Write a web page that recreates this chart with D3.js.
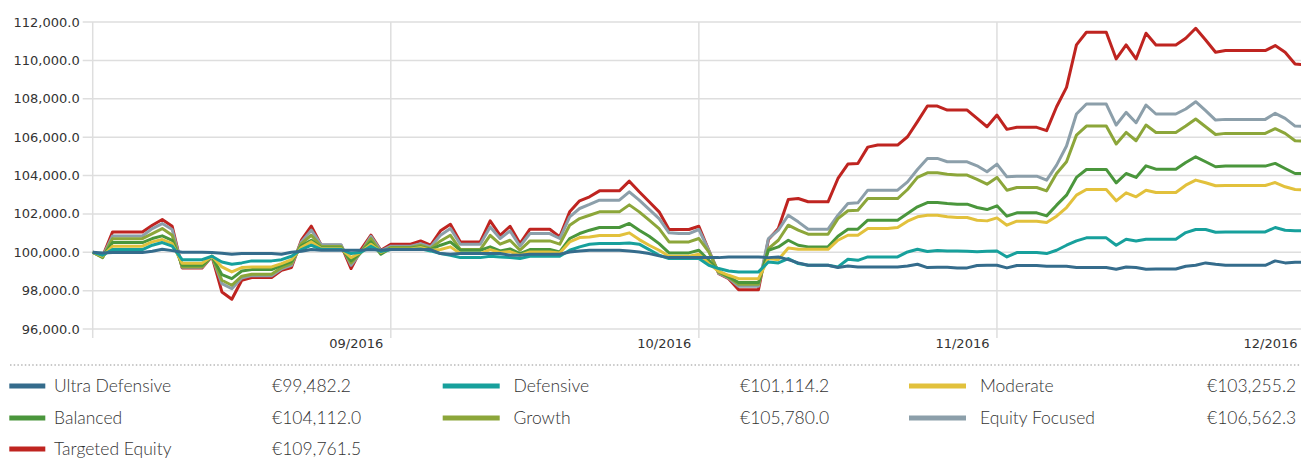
<!DOCTYPE html>
<html>
<head>
<meta charset="utf-8">
<script src="https://cdn.jsdelivr.net/npm/d3@7"></script>
<style>
  html, body { margin: 0; padding: 0; background: #fff; overflow: hidden; }
  .tick-label { font-family: "DejaVu Sans", Verdana, sans-serif; font-size: 13px; fill: #333; }
  .legend-text { font-family: Lato, "Open Sans", sans-serif; font-size: 17.5px; font-weight: 300; fill: #333; }
</style>
</head>
<body>
<div id="chart"></div>
<script>
// DATA
var seriesNames = ["Ultra Defensive", "Defensive", "Moderate", "Balanced", "Growth", "Equity Focused", "Targeted Equity"];
var seriesColors = ["#356c8c", "#17a09c", "#e2c13c", "#4a963c", "#8ca63a", "#8c9faa", "#bf2420"];
var finalLabels = ["€99,482.2", "€101,114.2", "€103,255.2", "€104,112.0", "€105,780.0", "€106,562.3", "€109,761.5"];

var tickLabels = ["09/2016", "10/2016", "11/2016", "12/2016"];
var tickIndex = [30, 61, 91, 122];
var yTicks = [96000, 98000, 100000, 102000, 104000, 106000, 108000, 110000, 112000];

var ultraDefensive = [
  100000, 99965, 99985, 99985, 99985, 99985, 100050, 100155, 100085, 100000,
  100000, 100000, 99985, 99950, 99900, 99930, 99930, 99930, 99930, 99900,
  100000, 100050, 100140, 100105, 100105, 100105, 100105, 100105, 100140, 100105,
  100140, 100140, 100140, 100140, 100140, 99930, 99895, 99930, 99930, 99930,
  99930, 99930, 99845, 99845, 99895, 99895, 99895, 99895, 100015, 100070,
  100105, 100105, 100105, 100105, 100070, 100015, 99930, 99810, 99720, 99720,
  99720, 99720, 99720, 99720, 99755, 99755, 99755, 99755, 99720, 99755,
  99615, 99445, 99320, 99320, 99320, 99200, 99285, 99235, 99235, 99235,
  99235, 99235, 99285, 99375, 99200, 99220, 99220, 99185, 99185, 99305,
  99320, 99320, 99185, 99305, 99305, 99305, 99270, 99270, 99270, 99200,
  99200, 99200, 99200, 99115, 99235, 99200, 99115, 99130, 99130, 99130,
  99270, 99320, 99445, 99375, 99320, 99320, 99320, 99320, 99320, 99550,
  99445, 99480, 99482.2
];
var defensive = [
  100000, 99845, 100140, 100140, 100140, 100140, 100365, 100505, 100315, 99615,
  99615, 99615, 99790, 99495, 99375, 99445, 99550, 99550, 99550, 99615,
  99790, 100140, 100365, 100155, 100155, 100155, 99930, 100000, 100315, 100035,
  100140, 100140, 100140, 100175, 100070, 99930, 99845, 99720, 99720, 99720,
  99790, 99755, 99720, 99670, 99790, 99790, 99790, 99790, 100105, 100280,
  100420, 100450, 100450, 100450, 100485, 100420, 100140, 99845, 99670, 99670,
  99670, 99670, 99320, 99150, 99025, 98975, 98975, 98975, 99495, 99445,
  99670, 99410, 99320, 99320, 99320, 99235, 99635, 99580, 99755, 99755,
  99755, 99755, 100015, 100155, 100040, 100090, 100060, 100060, 100050, 100020,
  100050, 100070, 99755, 99985, 99985, 99985, 99930, 100105, 100365, 100590,
  100750, 100750, 100750, 100365, 100680, 100590, 100680, 100680, 100680, 100680,
  101025, 101185, 101185, 101045, 101060, 101060, 101060, 101060, 101060, 101290,
  101150, 101115, 101114.2
];
var moderate = [
  100000, 99790, 100315, 100315, 100315, 100315, 100540, 100660, 100450, 99425,
  99425, 99425, 99790, 99235, 98975, 99200, 99235, 99235, 99235, 99410,
  99615, 100245, 100540, 100190, 100190, 100190, 99720, 100000, 100420, 100000,
  100175, 100175, 100175, 100245, 100105, 100140, 100280, 99930, 99930, 99930,
  100140, 99985, 100035, 99845, 100015, 100015, 100015, 99965, 100540, 100765,
  100800, 100870, 100870, 100870, 101010, 100660, 100365, 100105, 99790, 99790,
  99790, 99895, 99410, 99000, 98800, 98625, 98625, 98625, 99670, 99615,
  100225, 100155, 100155, 100155, 100155, 100625, 100885, 100885, 101235, 101235,
  101235, 101290, 101620, 101845, 101930, 101930, 101845, 101810, 101810, 101670,
  101635, 101790, 101410, 101620, 101620, 101620, 101550, 101880, 102330, 102975,
  103270, 103270, 103270, 102680, 103095, 102890, 103235, 103115, 103115, 103115,
  103495, 103760, 103620, 103465, 103480, 103480, 103480, 103480, 103480, 103635,
  103410, 103270, 103255.2
];
var balanced = [
  100000, 99750, 100505, 100505, 100505, 100505, 100715, 100855, 100625, 99320,
  99320, 99320, 99790, 98835, 98625, 99025, 99095, 99095, 99095, 99320,
  99515, 100330, 100625, 100225, 100225, 100225, 99550, 100000, 100540, 99895,
  100210, 100210, 100210, 100280, 100140, 100365, 100540, 100105, 100105, 100105,
  100280, 100070, 100175, 99930, 100140, 100140, 100140, 100015, 100715, 100975,
  101150, 101290, 101290, 101290, 101500, 101150, 100835, 100450, 99965, 99965,
  99965, 100105, 99580, 99000, 98720, 98420, 98420, 98420, 100105, 100280,
  100625, 100365, 100280, 100280, 100280, 100835, 101200, 101200, 101670, 101670,
  101670, 101670, 102020, 102365, 102590, 102590, 102540, 102505, 102505, 102330,
  102225, 102420, 101880, 102055, 102055, 102055, 101895, 102455, 102975, 103900,
  104315, 104315, 104315, 103620, 104105, 103900, 104505, 104330, 104330, 104330,
  104680, 104975, 104715, 104455, 104490, 104490, 104490, 104490, 104490, 104630,
  104365, 104105, 104112
];
var growth = [
  100000, 99720, 100710, 100710, 100710, 100710, 100975, 101235, 100885, 99250,
  99250, 99250, 99790, 98540, 98280, 98750, 98850, 98850, 98850, 99200,
  99410, 100450, 100885, 100295, 100295, 100295, 99445, 100000, 100715, 99965,
  100245, 100245, 100245, 100350, 100190, 100590, 100885, 100140, 100140, 100140,
  100885, 100420, 100625, 100105, 100590, 100590, 100590, 100420, 101410, 101755,
  101930, 102105, 102105, 102105, 102470, 102105, 101670, 101235, 100540, 100540,
  100540, 100715, 100020, 98950, 98700, 98330, 98330, 98330, 100190, 100625,
  101410, 101150, 100940, 100940, 100940, 101755, 102160, 102190, 102800, 102800,
  102800, 102800, 103270, 103900, 104140, 104140, 104070, 104020, 104020, 103795,
  103550, 103900, 103235, 103375, 103375, 103375, 103200, 104105, 104720, 106105,
  106575, 106575, 106575, 105640, 106245, 105810, 106630, 106245, 106245, 106245,
  106575, 106945, 106540, 106140, 106195, 106195, 106195, 106195, 106195, 106440,
  106195, 105810, 105780
];
var equityFocused = [
  100000, 99780, 100850, 100850, 100850, 100850, 101235, 101495, 101185, 99215,
  99215, 99215, 99790, 98365, 98105, 98660, 98780, 98780, 98780, 99130,
  99320, 100540, 101150, 100385, 100385, 100385, 99320, 100000, 100835, 100070,
  100315, 100315, 100315, 100450, 100280, 100885, 101235, 100420, 100420, 100420,
  101320, 100715, 101115, 100315, 100975, 100975, 100975, 100715, 101845, 102280,
  102490, 102715, 102715, 102715, 103150, 102715, 102230, 101755, 101010, 100975,
  100975, 101185, 100105, 98900, 98650, 98230, 98230, 98230, 100715, 101150,
  101930, 101585, 101200, 101200, 101200, 101930, 102540, 102575, 103235, 103235,
  103235, 103235, 103670, 104315, 104890, 104890, 104715, 104715, 104715, 104505,
  104195, 104595, 103930, 103965, 103965, 103965, 103760, 104540, 105535, 107205,
  107725, 107725, 107725, 106630, 107290, 106750, 107675, 107205, 107205, 107205,
  107465, 107845, 107380, 106890, 106925, 106925, 106925, 106925, 106925, 107240,
  106975, 106575, 106562.3
];
var targetedEquity = [
  100000, 99790, 101060, 101060, 101060, 101060, 101410, 101705, 101355, 99180,
  99180, 99180, 99790, 97930, 97550, 98540, 98680, 98680, 98680, 99060,
  99200, 100630, 101360, 100365, 100365, 100365, 99150, 100140, 100890, 100100,
  100420, 100420, 100420, 100590, 100365, 101115, 101460, 100540, 100540, 100540,
  101635, 100885, 101355, 100450, 101200, 101200, 101200, 100800, 102105, 102680,
  102890, 103200, 103200, 103200, 103705, 103150, 102630, 102105, 101185, 101185,
  101185, 101355, 100100, 98885, 98625, 98050, 98050, 98050, 100660, 101235,
  102750, 102800, 102630, 102630, 102630, 103845, 104595, 104630, 105480, 105585,
  105585, 105585, 106020, 106805, 107620, 107620, 107410, 107410, 107410, 106975,
  106540, 107150, 106405, 106510, 106510, 106510, 106335, 107585, 108595, 110805,
  111465, 111465, 111465, 110075, 110805, 110075, 111415, 110805, 110805, 110805,
  111155, 111675, 111065, 110425, 110510, 110510, 110510, 110510, 110510, 110770,
  110425, 109815, 109761.5
];

var allSeries = [ultraDefensive, defensive, moderate, balanced, growth, equityFocused, targetedEquity];

// LAYOUT
var width = 1301, height = 459;
var plotLeft = 92.7, plotTop = 22, plotBottom = 329, axisBottom = 338;

var svg = d3.select("#chart").append("svg")
    .attr("width", width)
    .attr("height", height)
    .style("display", "block");

var xScale = d3.scaleLinear().domain([0, 122]).range([plotLeft, 1305]);
var yScale = d3.scaleLinear().domain([96000, 112000]).range([plotBottom, plotTop]);

// horizontal gridlines + y labels
var yAxis = svg.append("g").attr("class", "y axis");
yAxis.selectAll("line")
    .data(yTicks)
  .enter().append("line")
    .attr("x1", plotLeft - 10)
    .attr("x2", width)
    .attr("y1", function(d) { return yScale(d); })
    .attr("y2", function(d) { return yScale(d); })
    .attr("stroke", "#dedede")
    .attr("stroke-width", 1.5);

yAxis.selectAll("text")
    .data(yTicks)
  .enter().append("text")
    .attr("class", "tick-label")
    .attr("x", plotLeft - 13)
    .attr("y", function(d) { return yScale(d); })
    .attr("dy", "0.35em")
    .attr("text-anchor", "end")
    .text(function(d) { return d3.format(",.1f")(d); });

// vertical axis line + month gridlines
svg.append("line")
    .attr("x1", plotLeft).attr("x2", plotLeft)
    .attr("y1", plotTop).attr("y2", axisBottom)
    .attr("stroke", "#dedede")
    .attr("stroke-width", 1.5);

var xAxis = svg.append("g").attr("class", "x axis");
xAxis.selectAll("line")
    .data(tickIndex)
  .enter().append("line")
    .attr("x1", function(d) { return xScale(d); })
    .attr("x2", function(d) { return xScale(d); })
    .attr("y1", plotTop)
    .attr("y2", axisBottom)
    .attr("stroke", "#dedede")
    .attr("stroke-width", 1.5);

xAxis.selectAll("text")
    .data(tickIndex)
  .enter().append("text")
    .attr("class", "tick-label")
    .attr("x", function(d) { return xScale(d) - 7.5; })
    .attr("y", 343)
    .attr("dy", "0.35em")
    .attr("text-anchor", "end")
    .text(function(d, i) { return tickLabels[i]; });

// lines - riskiest first so Ultra Defensive sits on top
var line = d3.line()
    .x(function(d, i) { return xScale(i); })
    .y(function(d) { return yScale(d); });

var order = [6, 5, 4, 3, 2, 1, 0];
svg.append("g").selectAll("path")
    .data(order)
  .enter().append("path")
    .attr("d", function(k) { return line(allSeries[k]); })
    .attr("fill", "none")
    .attr("stroke", function(k) { return seriesColors[k]; })
    .attr("stroke-width", 3)
    .attr("stroke-linejoin", "round");

// LEGEND
svg.append("line")
    .attr("x1", 10).attr("x2", width)
    .attr("y1", 365).attr("y2", 365)
    .attr("stroke", "#b8b8b8")
    .attr("stroke-width", 1.5)
    .attr("stroke-dasharray", "1.5,2.2");

var colSwatchX = [9.3, 442.7, 909];
var colSwatchW = [36, 57, 57];
var colTextX = [54, 513.5, 980];
var colValueX = [272, 740, 1207];
var rowY = [386, 418, 449];

var legend = svg.append("g").selectAll(".legend")
    .data(seriesNames)
  .enter().append("g")
    .attr("class", "legend")
    .attr("transform", function(d, i) { return "translate(0," + rowY[Math.floor(i / 3)] + ")"; });

legend.append("rect")
    .attr("x", function(d, i) { return colSwatchX[i % 3]; })
    .attr("y", -2.5)
    .attr("width", function(d, i) { return colSwatchW[i % 3]; })
    .attr("height", 5)
    .attr("fill", function(d, i) { return seriesColors[i]; });

legend.append("text")
    .attr("class", "legend-text")
    .attr("x", function(d, i) { return colTextX[i % 3]; })
    .attr("dy", "0.33em")
    .text(function(d) { return d; });

legend.append("text")
    .attr("class", "legend-text")
    .attr("x", function(d, i) { return colValueX[i % 3]; })
    .attr("dy", "0.33em")
    .text(function(d, i) { return finalLabels[i]; });
</script>
</body>
</html>
